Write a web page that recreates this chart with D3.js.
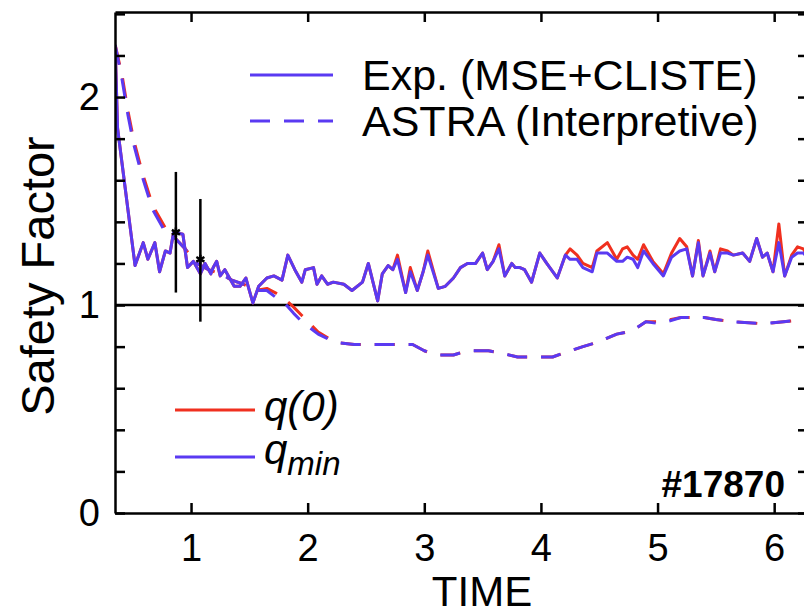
<!DOCTYPE html>
<html>
<head>
<meta charset="utf-8">
<script src="https://cdn.jsdelivr.net/npm/d3@7"></script>
<style>
  body { margin: 0; background: #fff; }
  text { font-family: "Liberation Sans", Arial, Helvetica, sans-serif; fill: #000; }
</style>
</head>
<body>
<div id="canvas"></div>
<script>
// measured experiment (MSE+CLISTE), time in s
let expTime = [0.35, 0.37, 0.52, 0.59, 0.63, 0.69, 0.73, 0.78, 0.82, 0.85, 0.93, 0.97, 1.02, 1.08, 1.12, 1.17, 1.19, 1.22, 1.25, 1.29,
  1.33, 1.37, 1.42, 1.47, 1.49, 1.53, 1.58, 1.65, 1.71, 1.78, 1.83, 1.89, 1.95, 1.98, 2.05, 2.08, 2.12, 2.17, 2.22, 2.31,
  2.38, 2.47, 2.52, 2.60, 2.64, 2.69, 2.73, 2.77, 2.84, 2.88, 2.94, 2.99, 3.03, 3.12, 3.18, 3.25, 3.31, 3.37, 3.44, 3.50,
  3.54, 3.59, 3.64, 3.69, 3.75, 3.78, 3.82, 3.86, 3.92, 3.99, 4.05, 4.14, 4.21, 4.25, 4.31, 4.36, 4.44, 4.48, 4.57, 4.65,
  4.70, 4.74, 4.79, 4.83, 4.88, 4.92, 4.96, 5.05, 5.12, 5.19, 5.25, 5.30, 5.35, 5.39, 5.45, 5.49, 5.54, 5.60, 5.65, 5.73,
  5.79, 5.85, 5.90, 5.94, 5.99, 6.04, 6.09, 6.15, 6.20, 6.25, 6.30]
let expQmin = [2.24, 1.85, 1.19, 1.30, 1.22, 1.30, 1.16, 1.26, 1.25, 1.35, 1.34, 1.18, 1.21, 1.15, 1.20, 1.15, 1.18, 1.21, 1.14, 1.17,
  1.13, 1.09, 1.09, 1.13, 1.09, 1.01, 1.09, 1.13, 1.14, 1.12, 1.24, 1.17, 1.11, 1.17, 1.18, 1.10, 1.14, 1.10, 1.11, 1.10,
  1.07, 1.11, 1.20, 1.02, 1.15, 1.19, 1.17, 1.22, 1.06, 1.16, 1.07, 1.16, 1.24, 1.08, 1.09, 1.13, 1.18, 1.20, 1.20, 1.25,
  1.17, 1.21, 1.27, 1.14, 1.20, 1.18, 1.18, 1.17, 1.11, 1.25, 1.20, 1.13, 1.24, 1.22, 1.22, 1.18, 1.16, 1.25, 1.25, 1.21,
  1.21, 1.23, 1.22, 1.18, 1.26, 1.23, 1.20, 1.14, 1.23, 1.26, 1.27, 1.14, 1.30, 1.14, 1.25, 1.16, 1.25, 1.25, 1.24, 1.25,
  1.21, 1.32, 1.23, 1.25, 1.16, 1.30, 1.14, 1.23, 1.25, 1.25, 1.22]
let expQ0 = [2.24, 1.85, 1.19, 1.30, 1.22, 1.30, 1.16, 1.26, 1.25, 1.35, 1.34, 1.18, 1.21, 1.15, 1.20, 1.15, 1.18, 1.21, 1.14, 1.17,
  1.13, 1.09, 1.09, 1.13, 1.09, 1.01, 1.09, 1.13, 1.14, 1.12, 1.24, 1.17, 1.11, 1.17, 1.18, 1.10, 1.14, 1.10, 1.11, 1.10,
  1.07, 1.11, 1.20, 1.02, 1.15, 1.19, 1.17, 1.24, 1.06, 1.18, 1.07, 1.16, 1.26, 1.08, 1.09, 1.13, 1.18, 1.20, 1.20, 1.25,
  1.17, 1.21, 1.29, 1.14, 1.20, 1.18, 1.18, 1.17, 1.11, 1.25, 1.20, 1.13, 1.24, 1.27, 1.24, 1.20, 1.18, 1.26, 1.30, 1.22,
  1.27, 1.28, 1.24, 1.22, 1.29, 1.25, 1.21, 1.15, 1.25, 1.32, 1.28, 1.14, 1.31, 1.14, 1.26, 1.16, 1.27, 1.26, 1.24, 1.25,
  1.21, 1.32, 1.23, 1.25, 1.16, 1.39, 1.14, 1.24, 1.28, 1.27, 1.22]

// ASTRA interpretive run
let astraTime = [0.35, 0.41, 0.46, 0.51, 0.58, 0.67, 0.78, 0.85, 0.95, 1.05, 1.15, 1.25, 1.35, 1.45, 1.55, 1.65, 1.72, 1.80, 1.88, 1.95,
  2.09, 2.24, 2.40, 2.90, 3.00, 3.10, 3.25, 3.37, 3.55, 3.65, 3.80, 4.10, 4.20, 4.36, 4.48, 4.65, 4.78, 4.90, 5.02, 5.20,
  5.40, 5.50, 5.65, 5.90, 6.08, 6.30]
let astraQmin = [2.25, 2.08, 1.91, 1.77, 1.62, 1.46, 1.35, 1.33, 1.27, 1.20, 1.17, 1.15, 1.12, 1.10, 1.07, 1.07, 1.04, 1.01, 0.96, 0.92,
  0.86, 0.82, 0.81, 0.81, 0.78, 0.76, 0.76, 0.78, 0.78, 0.77, 0.75, 0.75, 0.77, 0.80, 0.82, 0.86, 0.875, 0.92, 0.91, 0.94,
  0.94, 0.93, 0.92, 0.91, 0.92, 0.93]
let astraQ0 = [2.25, 2.10, 1.93, 1.79, 1.64, 1.48, 1.37, 1.33, 1.27, 1.20, 1.17, 1.15, 1.12, 1.10, 1.07, 1.08, 1.06, 1.03, 0.99, 0.95,
  0.87, 0.82, 0.81, 0.81, 0.78, 0.76, 0.76, 0.78, 0.78, 0.77, 0.75, 0.75, 0.77, 0.80, 0.82, 0.86, 0.875, 0.92, 0.92, 0.94,
  0.94, 0.93, 0.92, 0.91, 0.92, 0.93]

// error bars on the measurement
let errTime = [0.87, 1.08]
let errMid = [1.35, 1.22]
let errLow = [1.06, 0.92]
let errHigh = [1.64, 1.51]

let xTickValues = [1, 2, 3, 4, 5, 6]
let yTickValues = [0, 0.2, 0.4, 0.6, 0.8, 1, 1.2, 1.4, 1.6, 1.8, 2, 2.2, 2.4]
let yTickLabels = ["0", "", "", "", "", "1", "", "", "", "", "2", "", ""]

let svg = {}
let x, y
let plot = {left: 115, right: 808, top: 12, bottom: 513}
let blue = "#5a3af2"
let red = "#f0301f"

window.onload = function () { setup() }

function setup() {
  svg = d3.select("#canvas").append("svg")
    .attr("width", 804)
    .attr("height", 614)

  x = d3.scaleLinear().domain([0.348, 6.29]).range([plot.left, plot.right])
  y = d3.scaleLinear().domain([0, 2.409]).range([plot.bottom, plot.top])

  svg.append("clipPath").attr("id", "clip")
    .append("rect")
    .attr("x", plot.left).attr("y", plot.top)
    .attr("width", plot.right - plot.left).attr("height", plot.bottom - plot.top)

  drawLines()
  drawAxes()
  drawErrorBars()
  drawLegends()
}

function drawLines() {
  let g = svg.append("g").attr("clip-path", "url(#clip)")

  // reference line q = 1
  g.append("line")
    .attr("x1", plot.left).attr("x2", plot.right)
    .attr("y1", y(1)).attr("y2", y(1))
    .attr("stroke", "#000").attr("stroke-width", 2.5)

  let line = d3.line().x(d => x(d[0])).y(d => y(d[1]))

  let series = [
    {t: astraTime, v: astraQ0, color: red, dash: "20,14"},
    {t: astraTime, v: astraQmin, color: blue, dash: "20,14"},
    {t: expTime, v: expQ0, color: red, dash: null},
    {t: expTime, v: expQmin, color: blue, dash: null}
  ]

  series.forEach(s => {
    g.append("path")
      .datum(d3.zip(s.t, s.v))
      .attr("d", line)
      .attr("fill", "none")
      .attr("stroke", s.color)
      .attr("stroke-width", 3)
      .attr("stroke-linejoin", "round")
      .attr("stroke-dasharray", s.dash)
  })
}

function drawAxes() {
  let fmtY = (d, i) => yTickLabels[i]

  let bottom = svg.append("g")
    .attr("transform", `translate(0,${plot.bottom})`)
    .call(d3.axisBottom(x).tickValues(xTickValues).tickSize(-10).tickSizeOuter(0).tickPadding(21).tickFormat(d3.format("d")))
  let top = svg.append("g")
    .attr("transform", `translate(0,${plot.top})`)
    .call(d3.axisTop(x).tickValues(xTickValues).tickSize(-10).tickSizeOuter(0).tickFormat(""))
  let left = svg.append("g")
    .attr("transform", `translate(${plot.left},0)`)
    .call(d3.axisLeft(y).tickValues(yTickValues).tickSize(-10).tickSizeOuter(0).tickPadding(15).tickFormat(fmtY))
  let right = svg.append("g")
    .attr("transform", `translate(${plot.right},0)`)
    .call(d3.axisRight(y).tickValues(yTickValues).tickSize(-10).tickSizeOuter(0).tickFormat(""))

  ;[bottom, top, left, right].forEach(a => {
    a.selectAll("path, line").attr("stroke", "#000").attr("stroke-width", 2.5)
    a.selectAll("text").style("font-size", "38px").attr("fill", "#000")
  })

  svg.append("text")
    .attr("x", 482).attr("y", 606)
    .attr("text-anchor", "middle")
    .style("font-size", "42px")
    .text("TIME")

  svg.append("text")
    .attr("transform", "translate(54,276) rotate(-90)")
    .attr("text-anchor", "middle")
    .style("font-size", "47px")
    .text("Safety Factor")
}

function drawErrorBars() {
  let g = svg.append("g")
  errTime.forEach((t, i) => {
    g.append("line")
      .attr("x1", x(t)).attr("x2", x(t))
      .attr("y1", y(errLow[i])).attr("y2", y(errHigh[i]))
      .attr("stroke", "#000").attr("stroke-width", 2.5)
    g.append("path")
      .attr("d", d3.symbol(d3.symbolAsterisk, 60)())
      .attr("transform", `translate(${x(t)},${y(errMid[i])})`)
      .attr("fill", "none").attr("stroke", "#000").attr("stroke-width", 2.5)
  })
}

function drawLegends() {
  // model / experiment legend
  svg.append("line")
    .attr("x1", 250).attr("x2", 333).attr("y1", 75).attr("y2", 75)
    .attr("stroke", blue).attr("stroke-width", 3)
  svg.append("line")
    .attr("x1", 250).attr("x2", 333).attr("y1", 121).attr("y2", 121)
    .attr("stroke", blue).attr("stroke-width", 3).attr("stroke-dasharray", "20,14")
  svg.append("text").attr("x", 362).attr("y", 90).style("font-size", "43px").text("Exp. (MSE+CLISTE)")
  svg.append("text").attr("x", 362).attr("y", 136).style("font-size", "43px").text("ASTRA (Interpretive)")

  // q legend
  svg.append("line")
    .attr("x1", 175).attr("x2", 255).attr("y1", 410).attr("y2", 410)
    .attr("stroke", red).attr("stroke-width", 3)
  svg.append("line")
    .attr("x1", 175).attr("x2", 255).attr("y1", 457).attr("y2", 457)
    .attr("stroke", blue).attr("stroke-width", 3)
  svg.append("text").attr("x", 264).attr("y", 421)
    .style("font-size", "42px").style("font-style", "italic").text("q(0)")
  let qmin = svg.append("text").attr("x", 264).attr("y", 464)
    .style("font-size", "42px").style("font-style", "italic")
  qmin.append("tspan").text("q")
  qmin.append("tspan").attr("dy", 11).style("font-size", "33px").text("min")

  svg.append("text")
    .attr("x", 785).attr("y", 497)
    .attr("text-anchor", "end")
    .style("font-size", "37px").style("font-weight", "bold")
    .text("#17870")
}
</script>
</body>
</html>
